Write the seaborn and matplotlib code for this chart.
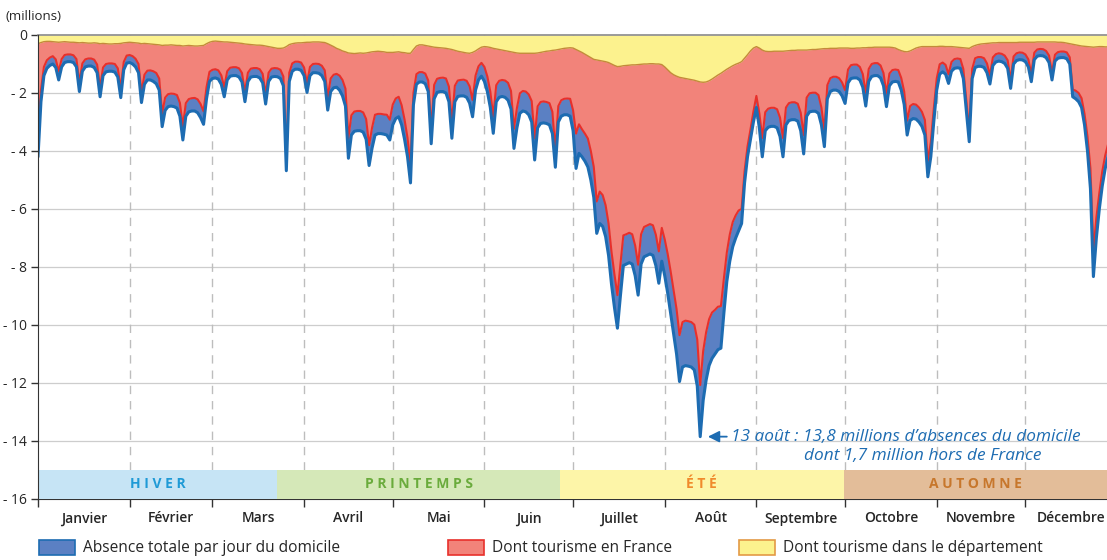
import numpy as np
import pandas as pd
import matplotlib
matplotlib.use("Agg")
import matplotlib.pyplot as plt
import seaborn as sns
from matplotlib.patches import Patch

sns.set_style("white")
plt.rcParams['font.family'] = ['Open Sans', 'DejaVu Sans']

# ---- data (millions, daily 2011, first value = Sat 1 January) ----
total = [
    4.2, 2.3, 1.4, 1.15, 1.05, 1.0, 1.12,
    1.55, 1.1, 0.95, 0.92, 0.92, 0.95, 1.1,
    1.95, 1.25, 1.1, 1.07, 1.07, 1.12, 1.3,
    2.13, 1.4, 1.27, 1.25, 1.25, 1.28, 1.45,
    2.16, 1.2, 0.97, 0.95, 1.0, 1.1, 1.3,
    2.33, 1.7, 1.55, 1.55, 1.6, 1.68, 1.9,
    3.16, 2.6, 2.47, 2.45, 2.47, 2.52, 2.8,
    3.62, 2.8, 2.65, 2.62, 2.62, 2.68, 2.85,
    3.08, 2.2, 1.6, 1.5, 1.48, 1.52, 1.7,
    2.13, 1.55, 1.42, 1.4, 1.4, 1.45, 1.62,
    2.3, 1.6, 1.45, 1.43, 1.43, 1.48, 1.65,
    2.38, 1.6, 1.45, 1.43, 1.44, 1.5, 1.75,
    4.68, 1.6, 1.25, 1.18, 1.18, 1.22, 1.4,
    1.98, 1.4, 1.3, 1.3, 1.32, 1.4, 1.6,
    2.59, 1.95, 1.82, 1.8, 1.9, 2.1, 2.45,
    4.25, 3.45, 3.32, 3.3, 3.3, 3.35, 3.6,
    4.5, 3.9, 3.45, 3.4, 3.4, 3.42, 3.45,
    3.62, 3.1, 2.88, 2.82, 3.1, 3.6, 4.2,
    5.1, 2.4, 1.7, 1.62, 1.62, 1.68, 1.95,
    3.75, 2.2, 1.98, 1.95, 1.95, 2.0, 2.3,
    3.56, 2.3, 2.12, 2.1, 2.1, 2.15, 2.35,
    2.82, 1.9, 1.55, 1.42, 1.6, 1.95, 2.5,
    3.39, 2.3, 2.15, 2.12, 2.15, 2.25, 2.55,
    3.91, 3.2, 2.7, 2.62, 2.65, 2.75, 3.0,
    4.31, 3.2, 3.05, 3.03, 3.05, 3.1, 3.4,
    4.56, 3.0, 2.8, 2.75, 2.75, 2.8, 3.3,
    4.6, 4.08, 4.2, 4.35, 4.55, 5.0, 5.6,
    6.84, 6.5, 6.6, 6.95, 7.6, 8.6, 9.4,
    10.11, 9.0, 7.95, 7.9, 7.85, 7.9, 8.3,
    8.97, 7.9, 7.65, 7.6, 7.55, 7.6, 7.95,
    8.56, 7.8, 8.3, 8.9, 9.6, 10.3, 11.0,
    11.95, 11.45, 11.4, 11.42, 11.45, 11.55, 12.1,
    13.85, 12.6, 11.9, 11.4, 11.15, 11.0, 10.85,
    10.8, 9.6, 8.5, 7.8, 7.3, 7.0, 6.75,
    6.5, 5.1, 4.2, 3.6, 3.0, 2.5, 3.2,
    4.2, 3.3, 3.18, 3.15, 3.15, 3.2, 3.5,
    4.2, 3.1, 2.95, 2.92, 2.92, 2.97, 3.3,
    4.1, 2.8, 2.65, 2.63, 2.63, 2.7, 3.1,
    3.85, 2.2, 1.95, 1.9, 1.9, 1.95, 2.1,
    2.36, 1.65, 1.5, 1.48, 1.48, 1.55, 1.8,
    2.45, 1.6, 1.43, 1.4, 1.4, 1.48, 1.75,
    2.47, 1.75, 1.62, 1.6, 1.62, 1.9, 2.4,
    3.45, 2.95, 2.88, 2.9, 3.0, 3.15, 3.45,
    4.89, 4.2, 3.0, 1.9, 1.35, 1.27, 1.35,
    1.67, 1.25, 1.15, 1.13, 1.15, 1.5, 2.6,
    3.68, 1.5, 1.12, 1.08, 1.08, 1.12, 1.3,
    1.69, 1.05, 0.93, 0.9, 0.92, 0.98, 1.15,
    1.84, 1.0, 0.88, 0.85, 0.86, 0.92, 1.1,
    1.61, 0.85, 0.73, 0.71, 0.72, 0.78, 0.95,
    1.55, 0.9, 0.8, 0.78, 0.78, 0.82, 1.0,
    2.13, 2.2, 2.3, 2.5, 3.1, 4.0, 5.3,
    8.33, 7.0, 6.0, 5.2, 4.6, 4.2, 4.3,
    5.0,
]

# part spent abroad (total minus tourism in France)
abroad = [
    0.7, 0.4, 0.3, 0.28, 0.27, 0.27, 0.28,
    0.3, 0.27, 0.26, 0.25, 0.25, 0.25, 0.27,
    0.3, 0.27, 0.26, 0.26, 0.26, 0.27, 0.28,
    0.3, 0.28, 0.27, 0.27, 0.27, 0.28, 0.3,
    0.3, 0.27, 0.26, 0.26, 0.27, 0.28, 0.3,
    0.35, 0.33, 0.32, 0.33, 0.35, 0.37, 0.4,
    0.45, 0.44, 0.43, 0.43, 0.44, 0.45, 0.46,
    0.47, 0.45, 0.44, 0.44, 0.45, 0.46, 0.47,
    0.45, 0.4, 0.33, 0.3, 0.3, 0.3, 0.31,
    0.33, 0.3, 0.29, 0.29, 0.29, 0.3, 0.31,
    0.33, 0.3, 0.29, 0.29, 0.29, 0.3, 0.31,
    0.33, 0.3, 0.29, 0.29, 0.29, 0.3, 0.32,
    0.35, 0.3, 0.27, 0.26, 0.26, 0.27, 0.28,
    0.32, 0.3, 0.3, 0.31, 0.32, 0.34, 0.38,
    0.45, 0.45, 0.45, 0.46, 0.5, 0.55, 0.6,
    0.7, 0.68, 0.68, 0.68, 0.68, 0.68, 0.7,
    0.7, 0.7, 0.7, 0.68, 0.68, 0.68, 0.7,
    0.7, 0.7, 0.69, 0.69, 0.68, 0.68, 0.65,
    0.6, 0.4, 0.35, 0.34, 0.34, 0.35, 0.38,
    0.5, 0.48, 0.47, 0.47, 0.48, 0.5, 0.52,
    0.55, 0.55, 0.55, 0.55, 0.56, 0.57, 0.58,
    0.58, 0.5, 0.47, 0.46, 0.5, 0.52, 0.55,
    0.58, 0.57, 0.57, 0.57, 0.58, 0.6, 0.62,
    0.68, 0.68, 0.69, 0.69, 0.7, 0.7, 0.72,
    0.75, 0.74, 0.74, 0.74, 0.74, 0.75, 0.75,
    0.6, 0.55, 0.55, 0.55, 0.56, 0.6, 0.7,
    1.2, 1.0, 0.95, 0.95, 0.98, 1.0, 1.05,
    1.1, 1.1, 1.08, 1.08, 1.1, 1.12, 1.14,
    1.14, 1.08, 1.04, 1.03, 1.03, 1.03, 1.04,
    1.05, 1.03, 1.03, 1.03, 1.03, 1.04, 1.06,
    1.1, 1.15, 1.25, 1.35, 1.45, 1.5, 1.55,
    1.6, 1.55, 1.55, 1.55, 1.55, 1.56, 1.6,
    1.78, 1.7, 1.65, 1.6, 1.58, 1.52, 1.48,
    1.45, 1.2, 1.0, 0.92, 0.85, 0.78, 0.7,
    0.5, 0.4, 0.36, 0.34, 0.36, 0.4, 0.5,
    0.65, 0.64, 0.64, 0.64, 0.64, 0.64, 0.65,
    0.65, 0.6, 0.6, 0.6, 0.6, 0.6, 0.62,
    0.65, 0.64, 0.64, 0.64, 0.64, 0.63, 0.6,
    0.55, 0.47, 0.46, 0.46, 0.46, 0.46, 0.46,
    0.46, 0.46, 0.46, 0.46, 0.46, 0.45, 0.45,
    0.45, 0.43, 0.43, 0.43, 0.43, 0.43, 0.44,
    0.45, 0.42, 0.41, 0.41, 0.41, 0.42, 0.45,
    0.5, 0.5, 0.5, 0.5, 0.5, 0.5, 0.52,
    0.55, 0.5, 0.45, 0.4, 0.34, 0.32, 0.32,
    0.32, 0.32, 0.32, 0.32, 0.32, 0.33, 0.35,
    0.38, 0.33, 0.32, 0.32, 0.32, 0.32, 0.32,
    0.3, 0.28, 0.27, 0.27, 0.27, 0.27, 0.28,
    0.28, 0.26, 0.25, 0.25, 0.25, 0.25, 0.26,
    0.26, 0.24, 0.23, 0.23, 0.23, 0.23, 0.24,
    0.25, 0.22, 0.21, 0.21, 0.21, 0.22, 0.23,
    0.25, 0.28, 0.3, 0.32, 0.38, 0.5, 0.7,
    0.9, 0.7, 0.55, 0.5, 0.45, 0.45, 0.5,
    0.6,
]

dept = [
    0.3, 0.26, 0.23, 0.22, 0.22, 0.23, 0.24,
    0.25, 0.24, 0.23, 0.24, 0.25, 0.25, 0.26,
    0.27, 0.26, 0.27, 0.28, 0.28, 0.27, 0.28,
    0.3, 0.29, 0.3, 0.31, 0.31, 0.3, 0.3,
    0.29, 0.27, 0.26, 0.25, 0.26, 0.27, 0.28,
    0.3, 0.29, 0.3, 0.31, 0.32, 0.33, 0.34,
    0.36, 0.35, 0.35, 0.34, 0.35, 0.36, 0.36,
    0.38, 0.37, 0.36, 0.37, 0.38, 0.38, 0.37,
    0.36, 0.3, 0.25, 0.22, 0.21, 0.22, 0.23,
    0.24, 0.24, 0.25, 0.26, 0.27, 0.28, 0.29,
    0.31, 0.32, 0.33, 0.34, 0.35, 0.35, 0.36,
    0.38, 0.4, 0.42, 0.44, 0.46, 0.46, 0.45,
    0.4, 0.33, 0.3, 0.28, 0.27, 0.27, 0.26,
    0.25, 0.25, 0.24, 0.24, 0.24, 0.25, 0.26,
    0.3, 0.35, 0.4, 0.46, 0.5, 0.55, 0.58,
    0.62, 0.63, 0.64, 0.63, 0.62, 0.63, 0.62,
    0.6, 0.58, 0.57, 0.56, 0.57, 0.58, 0.6,
    0.6, 0.6, 0.59, 0.58, 0.6, 0.61, 0.63,
    0.63, 0.5, 0.38, 0.34, 0.34, 0.36, 0.38,
    0.4, 0.42, 0.43, 0.44, 0.45, 0.46, 0.48,
    0.5, 0.53, 0.56, 0.58, 0.6, 0.62, 0.63,
    0.6, 0.55, 0.48, 0.42, 0.4, 0.41, 0.43,
    0.46, 0.48, 0.5, 0.52, 0.54, 0.56, 0.58,
    0.6, 0.62, 0.63, 0.63, 0.63, 0.63, 0.63,
    0.63, 0.62, 0.6, 0.58, 0.56, 0.55, 0.53,
    0.52, 0.5, 0.48, 0.46, 0.45, 0.44, 0.45,
    0.5, 0.55, 0.6, 0.66, 0.72, 0.78, 0.84,
    0.86, 0.88, 0.9, 0.92, 0.95, 1.0, 1.05,
    1.09, 1.08, 1.06, 1.05, 1.04, 1.03, 1.03,
    1.02, 1.01, 1.0, 1.0, 0.99, 0.99, 1.0,
    1.0, 1.02, 1.1, 1.2, 1.3, 1.37, 1.42,
    1.46, 1.48, 1.5, 1.52, 1.54, 1.56, 1.59,
    1.62, 1.63, 1.62, 1.58, 1.52, 1.45, 1.38,
    1.32, 1.25, 1.18, 1.12, 1.06, 1.01, 0.97,
    0.92, 0.8, 0.68, 0.55, 0.45, 0.4, 0.45,
    0.52, 0.56, 0.57, 0.57, 0.56, 0.56, 0.56,
    0.56, 0.55, 0.54, 0.53, 0.53, 0.52, 0.52,
    0.52, 0.52, 0.51, 0.5, 0.5, 0.49, 0.48,
    0.47, 0.47, 0.46, 0.46, 0.46, 0.45, 0.45,
    0.45, 0.45, 0.46, 0.46, 0.45, 0.45, 0.44,
    0.44, 0.43, 0.43, 0.42, 0.42, 0.42, 0.42,
    0.42, 0.42, 0.43, 0.45, 0.5, 0.54, 0.57,
    0.58, 0.55, 0.5, 0.45, 0.42, 0.4, 0.4,
    0.4, 0.4, 0.4, 0.4, 0.39, 0.39, 0.4,
    0.4, 0.4, 0.41, 0.42, 0.43, 0.44, 0.45,
    0.46, 0.4, 0.36, 0.33, 0.31, 0.3, 0.29,
    0.28, 0.27, 0.27, 0.26, 0.26, 0.26, 0.26,
    0.26, 0.26, 0.26, 0.25, 0.25, 0.25, 0.25,
    0.25, 0.25, 0.24, 0.24, 0.24, 0.24, 0.24,
    0.24, 0.24, 0.25, 0.25, 0.26, 0.28, 0.3,
    0.32, 0.34, 0.36, 0.38, 0.39, 0.4, 0.41,
    0.42, 0.41, 0.4, 0.4, 0.41, 0.41, 0.42,
    0.43,
]

months = ["Janvier", "Février", "Mars", "Avril", "Mai", "Juin", "Juillet",
          "Août", "Septembre", "Octobre", "Novembre", "Décembre"]
month_days = [31, 28, 31, 30, 31, 30, 31, 31, 30, 31, 30, 31]

seasons = ["HIVER", "PRINTEMPS", "ÉTÉ", "AUTOMNE"]
season_start = [0, 81, 176.5, 272.5]
season_end = [81, 176.5, 272.5, 365]

legend_labels = ["Absence totale par jour du domicile",
                 "Dont tourisme en France",
                 "Dont tourisme dans le département"]

peak_day = 224
peak_value = 13.85
note_line1 = "13 août : 13,8 millions d\u2019absences du domicile"
note_line2 = "dont 1,7 million hors de France"

# ---- build frame ----
t = np.array(total)
a = np.array(abroad)
d = np.array(dept)
df = pd.DataFrame({
    "day": np.arange(len(t)),
    "total": -t,
    "france": -(t - a),
    "dept": -d,
})

# ---- styles ----
c_blue_fill = "#5b80c3"
c_blue_line = "#1d6cb2"
c_red_fill = "#f2837a"
c_red_line = "#e8302b"
c_yel_fill = "#fcf28e"
c_yel_line = "#c48a3a"
season_bg = ["#c6e4f5", "#d5e8b8", "#fdf5a8", "#e3bd99"]
season_fg = ["#1f9ad6", "#6aab3c", "#f08a2c", "#c7772c"]

W, H = 1107, 560
fig = plt.figure(figsize=(W / 100, H / 100), dpi=100)
ax = fig.add_axes([38 / W, (H - 499) / H, (W - 38) / W, (499 - 35) / H])

ax.set_xlim(0, 361.6)
ax.set_ylim(-16, 0)

# grid
for v in range(-14, 0, 2):
    ax.axhline(v, color="#cdcdcd", lw=0.9, zorder=0)
bounds = np.cumsum(month_days)
ax.vlines(bounds[:-1], -15, 0, colors="#bdbdbd", linestyles=(0, (6, 5)),
          lw=1.0, zorder=0)

# stacked areas
ax.fill_between(df["day"], 0, df["dept"], color=c_yel_fill, lw=0, zorder=1)
ax.fill_between(df["day"], df["dept"], df["france"], color=c_red_fill, lw=0, zorder=1)
ax.fill_between(df["day"], df["france"], df["total"], color=c_blue_fill, lw=0, zorder=1)
sns.lineplot(data=df, x="day", y="dept", color=c_yel_line, lw=1.0, ax=ax,
             legend=False, zorder=3)
sns.lineplot(data=df, x="day", y="france", color=c_red_line, lw=1.5, ax=ax,
             legend=False, zorder=3)
sns.lineplot(data=df, x="day", y="total", color=c_blue_line, lw=2.2, ax=ax,
             legend=False, zorder=4)

# seasons band
for name, s0, s1, bg, fg in zip(seasons, season_start, season_end, season_bg, season_fg):
    ax.fill_between([s0, s1], -16, -15, color=bg, lw=0, zorder=5)
    ax.text((s0 + min(s1, 361.6)) / 2, -15.5, " ".join(name), ha="center",
            va="center", fontsize=10, fontweight="bold", color=fg, zorder=6)

# axes cosmetics
ax.set_xlabel("")
ax.set_ylabel("")
ax.spines["right"].set_visible(False)
ax.spines["top"].set_color("#8a8a8a")
ax.spines["top"].set_linewidth(1.2)
ax.spines["top"].set_zorder(6)
ax.spines["left"].set_color("#333333")
ax.spines["bottom"].set_color("#333333")
ax.spines["left"].set_zorder(7)

yt = list(range(-16, 1, 2))
ax.set_yticks(yt)
ax.set_yticklabels(["0" if v == 0 else f"- {abs(v)}" for v in yt], fontsize=10)
ax.tick_params(axis="y", which="major", length=5, width=1, color="#333333",
               direction="out", pad=3, left=True)

ax.set_xticks(np.concatenate([[0], bounds[:-1]]))
ax.set_xticklabels([])
mid = np.cumsum(month_days) - np.array(month_days) / 2
ax.set_xticks(mid, minor=True)
ax.set_xticklabels(months, minor=True, fontsize=10, fontweight="semibold")
ax.tick_params(axis="x", which="major", length=6, width=1, color="#333333",
               direction="out", bottom=True)
ax.tick_params(axis="x", which="minor", length=0, pad=9)

fig.text(5 / W, 1 - 17 / H, "(millions)", fontsize=9.5, va="center", ha="left")

# annotation
ax.annotate("", xy=(peak_day + 2.6, -peak_value), xytext=(peak_day + 9.0, -peak_value),
            arrowprops=dict(arrowstyle="-|>", color=c_blue_line, lw=1.3,
                            mutation_scale=17, shrinkA=0, shrinkB=0), zorder=8)
ax.text(peak_day + 10.3, -peak_value, note_line1, fontsize=12.4, style="italic",
        color=c_blue_line, ha="left", va="center", zorder=8)
ax.text(peak_day + 35.0, -peak_value - 0.66, note_line2, fontsize=12.4, style="italic",
        color=c_blue_line, ha="left", va="center", zorder=8)

# legend
handles = [
    Patch(facecolor=c_blue_fill, edgecolor=c_blue_line, lw=1.2),
    Patch(facecolor=c_red_fill, edgecolor=c_red_line, lw=1.2),
    Patch(facecolor=c_yel_fill, edgecolor="#e39a45", lw=1.2),
]
legend_x = [39, 448, 739]
for h, lab, lx in zip(handles, legend_labels, legend_x):
    fig.legend(handles=[h], labels=[lab], loc="center left",
               bbox_to_anchor=(lx / W, 1 - 548 / H), frameon=False,
               fontsize=11.2, handlelength=2.3, handleheight=1.1,
               handletextpad=0.5, borderaxespad=0, borderpad=0)

fig.savefig("out.png", dpi=100)
